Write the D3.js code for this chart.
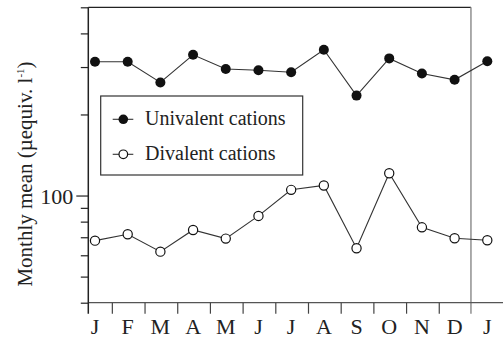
<!DOCTYPE html>
<html>
<head>
<meta charset="utf-8">
<script src="https://cdn.jsdelivr.net/npm/d3@7"></script>
<style>
  html, body { margin: 0; padding: 0; background: #fff; }
  svg { display: block; }
</style>
</head>
<body>
<svg id="chart" width="503" height="340"></svg>
<script>
// Monthly mean cation concentrations (µequiv. l-1), January to the following January
const months = ["J", "F", "M", "A", "M", "J", "J", "A", "S", "O", "N", "D", "J"];
const univalent = [314, 314, 263, 333, 295, 292, 287, 348, 235, 323, 284, 269, 315];
const divalent = [68.0, 71.8, 61.9, 74.5, 69.2, 84.0, 105, 109, 63.7, 121, 76.2, 69.4, 68.2];
const yTicks = [40, 50, 60, 70, 80, 90, 100, 200, 300, 400, 500];
const yLabelled = [100];
const seriesNames = ["Univalent cations", "Divalent cations"];

const serif = "'Liberation Serif', 'Times New Roman', serif";
const svg = d3.select("#chart");
const ink = "#222";

const x = d3.scaleLinear().domain([0, months.length - 1]).range([95, 487.3]);
const y = d3.scaleLog().domain([40, 500]).range([302.7, 7.3]);

const plotLeft = 88.3;
const plotRight = x(months.length - 1.5);   // frame edge between D and the next J
const plotTop = y(500), plotBottom = y(40);

// Frame: top rule, grey right rule, bottom rule running to the page edge
svg.append("line").attr("x1", plotLeft).attr("x2", plotRight).attr("y1", plotTop).attr("y2", plotTop)
  .attr("stroke", ink).attr("stroke-width", 1.3);
svg.append("line").attr("x1", plotRight).attr("x2", plotRight).attr("y1", plotTop).attr("y2", plotBottom + 11)
  .attr("stroke", "#888").attr("stroke-width", 1.4);
svg.append("line").attr("x1", plotLeft).attr("x2", 503).attr("y1", plotBottom).attr("y2", plotBottom)
  .attr("stroke", "#555").attr("stroke-width", 1.2);

// Left (log) axis
const yAxis = d3.axisLeft(y)
  .tickValues(yTicks)
  .tickSizeOuter(0)
  .tickSize(7.5)
  .tickFormat(d => yLabelled.includes(d) ? d3.format("d")(d) : "");
const gy = svg.append("g").attr("transform", `translate(${plotLeft},0)`).call(yAxis);
gy.select(".domain").remove();
gy.selectAll(".tick line").attr("stroke", ink).attr("stroke-width", 1.2)
  .filter(d => yLabelled.includes(d)).attr("x2", -12);
gy.selectAll(".tick text").attr("x", -15).attr("dy", "0.34em")
  .style("font-family", serif).style("font-size", "22px").attr("fill", ink);
svg.append("line").attr("x1", plotLeft).attr("x2", plotLeft).attr("y1", plotTop).attr("y2", plotBottom + 11)
  .attr("stroke", ink).attr("stroke-width", 1.5);

// Bottom axis: ticks between months, labels under each month
const boundaries = d3.range(months.length - 2).map(i => i + 0.5);
svg.append("g").selectAll("line").data(boundaries).join("line")
  .attr("x1", d => x(d) + 1).attr("x2", d => x(d) + 1)
  .attr("y1", plotBottom).attr("y2", plotBottom + 11)
  .attr("stroke", "#444").attr("stroke-width", 1.2);
svg.append("g").selectAll("text").data(months).join("text")
  .attr("x", (d, i) => x(i)).attr("y", 334)
  .attr("text-anchor", "middle")
  .style("font-family", serif).style("font-size", "22px").attr("fill", ink)
  .text(d => d);

// Y axis title
const title = svg.append("text")
  .attr("transform", "translate(32,174) rotate(-90)")
  .attr("text-anchor", "middle")
  .style("font-family", serif).style("font-size", "21px").attr("fill", ink);
title.append("tspan").text("Monthly mean  (µequiv. l");
title.append("tspan").style("font-size", "11px").attr("dy", -8).text("-1");
title.append("tspan").attr("dy", 8).text(")");

// Series
const line = d3.line().x((d, i) => x(i)).y(d => y(d));
svg.append("path").datum(univalent).attr("d", line)
  .attr("fill", "none").attr("stroke", "#333").attr("stroke-width", 1.1);
svg.append("path").datum(divalent).attr("d", line)
  .attr("fill", "none").attr("stroke", "#333").attr("stroke-width", 1.1);

svg.append("g").selectAll("circle").data(univalent).join("circle")
  .attr("cx", (d, i) => x(i)).attr("cy", d => y(d)).attr("r", 5)
  .attr("fill", "#111");
svg.append("g").selectAll("circle").data(divalent).join("circle")
  .attr("cx", (d, i) => x(i)).attr("cy", d => y(d)).attr("r", 4.6)
  .attr("fill", "#fff").attr("stroke", "#111").attr("stroke-width", 1.2);

// Legend
const legend = svg.append("g");
legend.append("rect").attr("x", 100.7).attr("y", 96).attr("width", 202).attr("height", 79)
  .attr("fill", "#fff").attr("stroke", "#333").attr("stroke-width", 1.2);
const rows = [119.3, 154.3];
seriesNames.forEach((name, k) => {
  const ry = rows[k];
  legend.append("line").attr("x1", 112.7).attr("x2", 133.3).attr("y1", ry).attr("y2", ry)
    .attr("stroke", "#333").attr("stroke-width", 1.1);
  legend.append("circle").attr("cx", 123.3).attr("cy", ry).attr("r", k === 0 ? 4.8 : 4.3)
    .attr("fill", k === 0 ? "#111" : "#fff").attr("stroke", "#111").attr("stroke-width", k === 0 ? 0 : 1.2);
  legend.append("text").attr("x", 145).attr("y", ry + 6)
    .style("font-family", serif).style("font-size", "20px").attr("fill", ink)
    .text(name);
});
</script>
</body>
</html>
